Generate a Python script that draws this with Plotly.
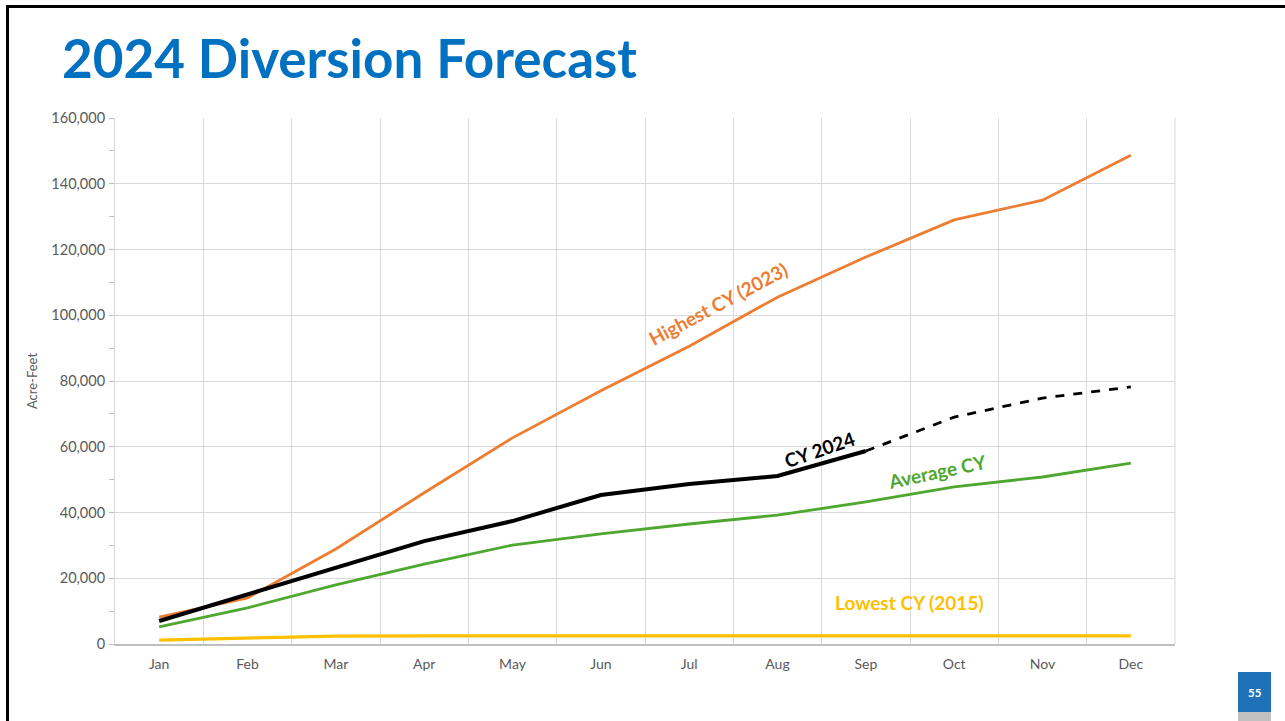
import plotly.graph_objects as go

months = ["Jan", "Feb", "Mar", "Apr", "May", "Jun", "Jul", "Aug", "Sep", "Oct", "Nov", "Dec"]
highest_2023 = [8200, 14000, 28900, 46000, 62700, 77000, 90600, 105500, 117700, 129000, 135000, 148700]
cy2024_actual = [7000, 15200, 23400, 31300, 37400, 45300, 48700, 51100, 58700, None, None, None]
cy2024_forecast = [None, None, None, None, None, None, None, None, 58700, 69000, 74800, 78200]
average_cy = [5200, 11000, 18000, 24300, 30100, 33500, 36500, 39200, 43200, 47800, 50800, 55000]
lowest_2015 = [1200, 1800, 2400, 2500, 2500, 2500, 2500, 2500, 2500, 2500, 2500, 2500]

ORANGE = "#ED7D31"
GREEN = "#4EA72E"
YELLOW = "#FFC000"
BLACK = "#000000"
FONT = "Lato, 'Open Sans', sans-serif"

fig = go.Figure()
fig.add_trace(go.Scatter(x=months, y=lowest_2015, mode="lines", line=dict(color=YELLOW, width=3.2), name="Lowest CY (2015)"))
fig.add_trace(go.Scatter(x=months, y=average_cy, mode="lines", line=dict(color=GREEN, width=2.8), name="Average CY"))
fig.add_trace(go.Scatter(x=months, y=highest_2023, mode="lines", line=dict(color=ORANGE, width=2.8), name="Highest CY (2023)"))
fig.add_trace(go.Scatter(x=months, y=cy2024_forecast, mode="lines", line=dict(color=BLACK, width=2.8, dash="dash"), name="CY 2024 forecast"))
fig.add_trace(go.Scatter(x=months, y=cy2024_actual, mode="lines", line=dict(color=BLACK, width=4), name="CY 2024"))

# paper-coordinate helpers (plot area: x 115..1175 px, y 118..644 px)
def px(x):
    return (x - 115) / 1060.0

def py(y):
    return (644 - y) / 526.0

annotations = [
    dict(x=6.33, y=103700, xref="x", yref="y", text="<b>Highest CY (2023)</b>", textangle=-28,
         font=dict(color=ORANGE, size=19, family=FONT), showarrow=False),
    dict(x=7.47, y=59300, xref="x", yref="y", text="<b>CY 2024</b>", textangle=-19,
         font=dict(color=BLACK, size=19, family=FONT), showarrow=False),
    dict(x=8.8, y=52600, xref="x", yref="y", text="<b>Average CY</b>", textangle=-12,
         font=dict(color=GREEN, size=19, family=FONT), showarrow=False),
    dict(x=8.49, y=12500, xref="x", yref="y", text="<b>Lowest CY (2015)</b>",
         font=dict(color=YELLOW, size=19, family=FONT), showarrow=False),
    dict(x=px(60), y=py(58), xref="paper", yref="paper", xanchor="left", yanchor="middle",
         text="<b>2024 Diversion Forecast</b>", font=dict(color="#0070C0", size=53, family=FONT),
         showarrow=False),
    dict(x=px(1254.5), y=py(692), xref="paper", yref="paper", xanchor="center", yanchor="middle",
         text="<b>55</b>", font=dict(color="white", size=11.5, family=FONT), showarrow=False),
]

shapes = [
    # slide frame
    dict(type="line", xref="paper", yref="paper", x0=px(7.5), x1=px(7.5), y0=py(725), y1=py(5),
         line=dict(color="black", width=3)),
    dict(type="line", xref="paper", yref="paper", x0=px(6), x1=px(1290), y0=py(6.5), y1=py(6.5),
         line=dict(color="black", width=3)),
    # page number box
    dict(type="rect", xref="paper", yref="paper", x0=px(1238), x1=px(1271), y0=py(712), y1=py(672),
         fillcolor="#1F72B8", line=dict(width=0)),
    dict(type="rect", xref="paper", yref="paper", x0=px(1238), x1=px(1271), y0=py(725), y1=py(712),
         fillcolor="#C0C0C0", line=dict(width=0)),
    # right edge of plot area
    dict(type="line", xref="paper", yref="paper", x0=1, x1=1, y0=0, y1=1,
         line=dict(color="#D9D9D9", width=1)),
]

fig.update_layout(
    width=1285, height=721,
    margin=dict(l=115, r=110, t=118, b=77),
    paper_bgcolor="white", plot_bgcolor="white",
    showlegend=False,
    annotations=annotations,
    shapes=shapes,
    font=dict(family=FONT, color="#595959", size=14),
)
fig.update_xaxes(
    type="category", categoryorder="array", categoryarray=months,
    tickson="boundaries", showgrid=True, gridcolor="#D9D9D9", gridwidth=1,
    showline=True, linecolor="#BFBFBF", linewidth=1.5, ticks="", ticklabelstandoff=6,
    tickfont=dict(size=14, color="#595959", family=FONT), range=[-0.5, 11.5],
)
fig.update_yaxes(
    range=[0, 160000], dtick=20000, tickformat=",", showgrid=True, gridcolor="#D9D9D9", gridwidth=1,
    showline=True, linecolor="#D9D9D9", linewidth=1, ticks="outside", ticklen=5, tickcolor="#BFBFBF",
    minor=dict(dtick=10000, ticks="outside", ticklen=5, tickcolor="#BFBFBF", showgrid=False),
    zeroline=False, ticklabelstandoff=1,
    title=dict(text="Acre-Feet", font=dict(size=13, color="#595959", family=FONT), standoff=10),
    tickfont=dict(size=14.5, color="#595959", family=FONT),
)

fig.write_html("out.html", config={"displayModeBar": False},
               post_script="document.body.style.margin='0px';document.body.style.padding='0px';")
